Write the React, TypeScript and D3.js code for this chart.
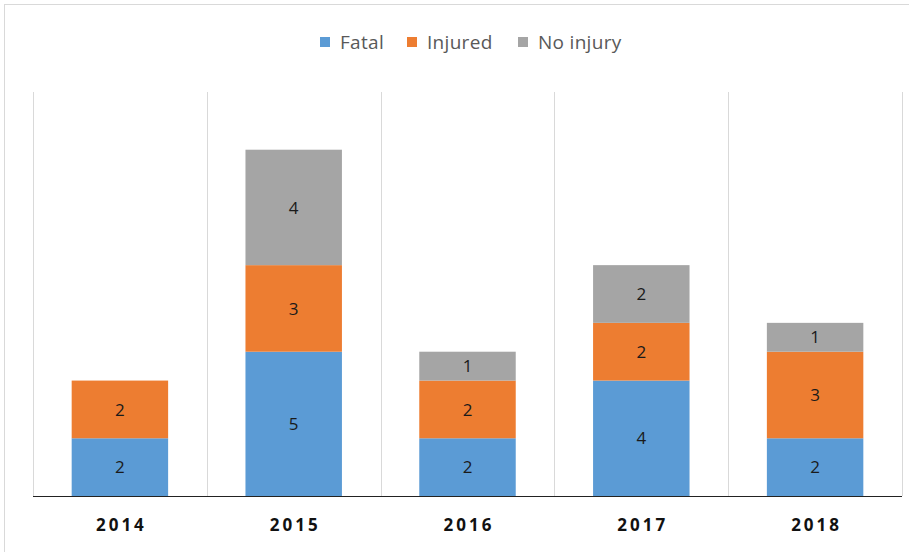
import React from 'react';
import * as d3 from 'd3';

const YEARS = ['2014', '2015', '2016', '2017', '2018'];
const FATAL = [2, 5, 2, 4, 2];
const INJURED = [2, 3, 2, 2, 3];
const NO_INJURY = [0, 4, 1, 2, 1];
const SERIES_NAMES = ['Fatal', 'Injured', 'No injury'];
const COLORS = ['#5B9BD5', '#ED7D31', '#A5A5A5'];
const Y_MAX = 14;

const WIDTH = 909;
const HEIGHT = 552;
const FONT = "'Open Sans', 'Liberation Sans', sans-serif";

export default function App() {
  const svgRef = React.useRef<SVGSVGElement>(null);

  React.useEffect(() => {
    const svg = d3.select(svgRef.current);
    svg.selectAll('*').remove();

    const left = 33;
    const right = 902;
    const top = 92;
    const bottom = 496;

    // outer chart border (only top/left visible in the frame)
    svg.append('rect')
      .attr('x', 4.5)
      .attr('y', 4.5)
      .attr('width', WIDTH + 20)
      .attr('height', HEIGHT + 20)
      .attr('fill', '#fff')
      .attr('stroke', '#d9d9d9')
      .attr('stroke-width', 1);

    const x = d3.scaleBand<string>()
      .domain(YEARS)
      .range([left, right])
      .paddingInner(0)
      .paddingOuter(0);

    const y = d3.scaleLinear()
      .domain([0, Y_MAX])
      .range([bottom, top]);

    // category gridlines
    const edges = YEARS.map(yr => x(yr)!).concat([right]);
    for (const ex of edges) {
      svg.append('line')
        .attr('x1', Math.round(ex) + 0.5)
        .attr('x2', Math.round(ex) + 0.5)
        .attr('y1', top)
        .attr('y2', bottom)
        .attr('stroke', '#d9d9d9')
        .attr('stroke-width', 1);
    }

    const rows = YEARS.map((yr, i) => ({
      year: yr,
      Fatal: FATAL[i],
      Injured: INJURED[i],
      'No injury': NO_INJURY[i],
    }));
    const stacked = d3.stack<any>().keys(SERIES_NAMES)(rows);

    const barW = x.bandwidth() * 0.555;

    stacked.forEach((layer, si) => {
      const g = svg.append('g');
      layer.forEach((d, i) => {
        const v = d[1] - d[0];
        if (v <= 0) return;
        const cx = x(YEARS[i])! + x.bandwidth() / 2;
        g.append('rect')
          .attr('x', cx - barW / 2)
          .attr('y', y(d[1]))
          .attr('width', barW)
          .attr('height', y(d[0]) - y(d[1]))
          .attr('fill', COLORS[si]);
        g.append('text')
          .attr('x', cx)
          .attr('y', (y(d[0]) + y(d[1])) / 2)
          .attr('dy', '0.36em')
          .attr('text-anchor', 'middle')
          .attr('font-family', FONT)
          .attr('font-size', 17)
          .attr('fill', '#1a1a1a')
          .text(v);
      });
    });

    // baseline axis
    svg.append('line')
      .attr('x1', left)
      .attr('x2', right)
      .attr('y1', bottom + 0.5)
      .attr('y2', bottom + 0.5)
      .attr('stroke', '#222')
      .attr('stroke-width', 1.2);

    YEARS.forEach(yr => {
      svg.append('text')
        .attr('x', x(yr)! + x.bandwidth() / 2 + 1.5)
        .attr('y', 531)
        .attr('text-anchor', 'middle')
        .attr('font-family', FONT)
        .attr('font-size', 17)
        .attr('font-weight', 700)
        .attr('letter-spacing', '3px')
        .attr('fill', '#111')
        .text(yr);
    });

    // legend
    const legendItems = [
      { name: SERIES_NAMES[0], sx: 320 },
      { name: SERIES_NAMES[1], sx: 407 },
      { name: SERIES_NAMES[2], sx: 518 },
    ];
    legendItems.forEach((it, i) => {
      svg.append('rect')
        .attr('x', it.sx)
        .attr('y', 37)
        .attr('width', 10)
        .attr('height', 10)
        .attr('fill', COLORS[i]);
      svg.append('text')
        .attr('x', it.sx + 20)
        .attr('y', 49)
        .attr('font-family', FONT)
        .attr('font-size', 19)
        .attr('letter-spacing', '0.3px')
        .attr('fill', '#595959')
        .text(it.name);
    });
  }, []);

  return (
    <div style={{ position: 'absolute', left: 0, top: 0 }}>
      <svg ref={svgRef} width={WIDTH} height={HEIGHT} style={{ display: 'block' }} />
    </div>
  );
}
